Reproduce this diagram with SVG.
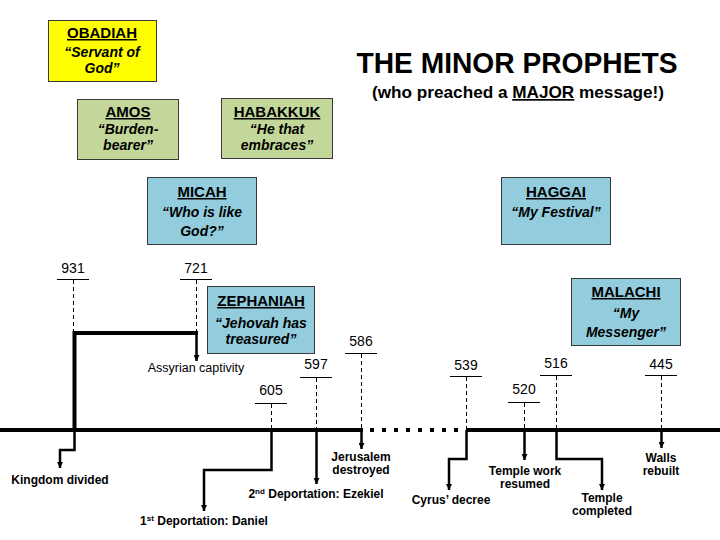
<svg xmlns="http://www.w3.org/2000/svg" width="720" height="540" viewBox="0 0 720 540">
<style>
.box{stroke:#3a3a3a;stroke-width:1}
.y{fill:#ffff00}.g{fill:#c4d79b}.b{fill:#93cddd}
.t{font-family:"Liberation Sans",Arial,sans-serif;font-size:15px;font-weight:bold;text-decoration:underline;text-anchor:middle;fill:#000}
.q{font-family:"Liberation Sans",Arial,sans-serif;font-size:14px;font-weight:bold;font-style:italic;text-anchor:middle;fill:#000}
.d{font-family:"Liberation Sans",Arial,sans-serif;font-size:14px;text-anchor:middle;fill:#000}
.l{font-family:"Liberation Sans",Arial,sans-serif;font-size:12px;font-weight:bold;text-anchor:middle;fill:#000}
.tick{stroke:#000;stroke-width:1}
.dash{stroke:#000;stroke-width:1;stroke-dasharray:4 3}
.c{stroke:#000;stroke-width:2.5;fill:none}
.thick{stroke:#000;stroke-width:4;fill:none}
</style>
<defs>
<marker id="a" markerUnits="userSpaceOnUse" markerWidth="6" markerHeight="6" refX="6" refY="3" orient="auto">
<path d="M0,0 L6,3 L0,6 z" fill="#000"/>
</marker>
</defs>
<rect width="720" height="540" fill="#fff"/>

<g id="title">
<text x="517" y="73" font-family="'Liberation Sans',Arial,sans-serif" font-size="29" font-weight="bold" text-anchor="middle" textLength="321" lengthAdjust="spacingAndGlyphs">THE MINOR PROPHETS</text>
<text x="518" y="98" font-family="'Liberation Sans',Arial,sans-serif" font-size="17" font-weight="bold" text-anchor="middle" textLength="292" lengthAdjust="spacingAndGlyphs">(who preached a <tspan text-decoration="underline">MAJOR</tspan> message!)</text>
</g>

<g id="obadiah">
<rect class="box y" x="48.5" y="20.5" width="108" height="61"/>
<text class="t" x="102" y="38">OBADIAH</text>
<text class="q" x="102" y="57">“Servant of</text>
<text class="q" x="102" y="73">God”</text>
</g>
<g id="amos">
<rect class="box g" x="77.5" y="99.5" width="101" height="60"/>
<text class="t" x="128" y="117">AMOS</text>
<text class="q" x="128" y="134">“Burden-</text>
<text class="q" x="128" y="150">bearer”</text>
</g>
<g id="habakkuk">
<rect class="box g" x="221.5" y="98.5" width="111" height="60"/>
<text class="t" x="277" y="117">HABAKKUK</text>
<text class="q" x="277" y="134">“He that</text>
<text class="q" x="277" y="150">embraces”</text>
</g>
<g id="micah">
<rect class="box b" x="147.5" y="177.5" width="109" height="67"/>
<text class="t" x="202" y="197">MICAH</text>
<text class="q" x="202" y="217">“Who is like</text>
<text class="q" x="202" y="236">God?”</text>
</g>
<g id="haggai">
<rect class="box b" x="501.5" y="177.5" width="109" height="67"/>
<text class="t" x="556" y="197">HAGGAI</text>
<text class="q" x="556" y="217">“My Festival”</text>
</g>
<g id="malachi">
<rect class="box b" x="571.5" y="278.5" width="109" height="67"/>
<text class="t" x="626" y="297">MALACHI</text>
<text class="q" x="626" y="318">“My</text>
<text class="q" x="626" y="337">Messenger”</text>
</g>
<g id="zephaniah">
<rect class="box b" x="207.5" y="286.5" width="107" height="67"/>
<text class="t" x="261" y="306">ZEPHANIAH</text>
<text class="q" x="261" y="328">“Jehovah has</text>
<text class="q" x="261" y="344">treasured”</text>
</g>

<g id="dates">
<text class="d" x="73" y="273">931</text><line class="tick" x1="57" y1="279.5" x2="89" y2="279.5"/>
<text class="d" x="196" y="273">721</text><line class="tick" x1="180" y1="279.5" x2="212" y2="279.5"/>
<text class="d" x="271" y="395">605</text><line class="tick" x1="255" y1="403.5" x2="287" y2="403.5"/>
<text class="d" x="316" y="369">597</text><line class="tick" x1="300" y1="377.5" x2="332" y2="377.5"/>
<text class="d" x="361" y="346">586</text><line class="tick" x1="345" y1="353.5" x2="377" y2="353.5"/>
<text class="d" x="466" y="370">539</text><line class="tick" x1="450" y1="376.5" x2="482" y2="376.5"/>
<text class="d" x="524" y="394">520</text><line class="tick" x1="508" y1="402.5" x2="540" y2="402.5"/>
<text class="d" x="556" y="368">516</text><line class="tick" x1="540" y1="375.5" x2="572" y2="375.5"/>
<text class="d" x="661" y="369">445</text><line class="tick" x1="645" y1="375.5" x2="677" y2="375.5"/>
</g>

<g id="connectors">
<line class="dash" x1="73.5" y1="280" x2="73.5" y2="331"/>
<line class="dash" x1="196.5" y1="280" x2="196.5" y2="331"/>
<line class="dash" x1="271.5" y1="404" x2="271.5" y2="428"/>
<line class="dash" x1="316.5" y1="378" x2="316.5" y2="428"/>
<line class="dash" x1="361.5" y1="354" x2="361.5" y2="428"/>
<line class="dash" x1="466.5" y1="377" x2="466.5" y2="428"/>
<line class="dash" x1="524.5" y1="403" x2="524.5" y2="428"/>
<line class="dash" x1="556.5" y1="376" x2="556.5" y2="428"/>
<line class="dash" x1="661.5" y1="376" x2="661.5" y2="428"/>

<line class="thick" x1="0" y1="430" x2="363" y2="430"/>
<line x1="370" y1="430" x2="462" y2="430" stroke="#000" stroke-width="4" stroke-dasharray="4 8"/>
<line class="thick" x1="466" y1="430" x2="720" y2="430"/>

<path class="thick" d="M74.5,430 V333 H198"/>
<path class="c" d="M196.5,333 V361" marker-end="url(#a)"/>
<path class="c" d="M74.5,430 V450 H60 V468" marker-end="url(#a)"/>
<path class="c" d="M271.5,430 V470 H204 V511" marker-end="url(#a)"/>
<path class="c" d="M316.5,430 V484" marker-end="url(#a)"/>
<path class="c" d="M361.5,430 V449" marker-end="url(#a)"/>
<path class="c" d="M466.5,430 V459 H449 V490" marker-end="url(#a)"/>
<path class="c" d="M524.5,430 V460" marker-end="url(#a)"/>
<path class="c" d="M556.5,430 V459 H602 V490" marker-end="url(#a)"/>
<path class="c" d="M661.5,430 V448" marker-end="url(#a)"/>
</g>

<g id="labels">
<text class="l" x="196" y="372" font-weight="normal" style="font-weight:normal;font-size:12.5px">Assyrian captivity</text>
<text class="l" x="60" y="484">Kingdom divided</text>
<text class="l" x="204" y="525">1<tspan dy="-4" font-size="8">st</tspan><tspan dy="4"> Deportation: Daniel</tspan></text>
<text class="l" x="316" y="498">2<tspan dy="-4" font-size="8">nd</tspan><tspan dy="4"> Deportation: Ezekiel</tspan></text>
<text class="l" x="361" y="461">Jerusalem</text>
<text class="l" x="361" y="474">destroyed</text>
<text class="l" x="451" y="504">Cyrus’ decree</text>
<text class="l" x="525" y="475">Temple work</text>
<text class="l" x="525" y="488">resumed</text>
<text class="l" x="602" y="502">Temple</text>
<text class="l" x="602" y="515">completed</text>
<text class="l" x="661" y="462">Walls</text>
<text class="l" x="661" y="475">rebuilt</text>
</g>
</svg>
